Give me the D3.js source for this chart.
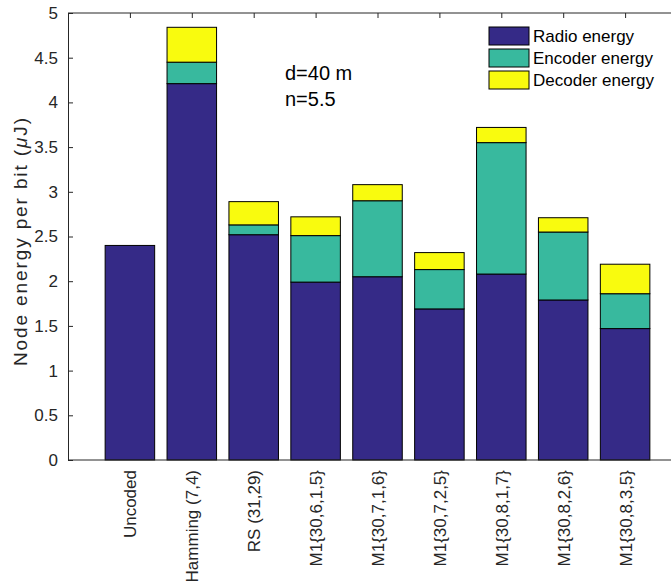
<!DOCTYPE html>
<html><head><meta charset="utf-8">
<script src="https://cdn.jsdelivr.net/npm/d3@7/dist/d3.min.js"></script>
<style>body{margin:0;background:#fff}svg{display:block;font-family:"Liberation Sans",Arial,sans-serif}</style>
</head><body><svg id="c" width="671" height="582"></svg>
<script>
const categories = ["Uncoded","Hamming (7,4)","RS (31,29)","M1{30,6,1,5}","M1{30,7,1,6}","M1{30,7,2,5}","M1{30,8,1,7}","M1{30,8,2,6}","M1{30,8,3,5}"];
const radio   = [2.40, 4.21, 2.52, 1.99, 2.05, 1.69, 2.08, 1.79, 1.47];
const encoder = [0.00, 0.24, 0.11, 0.52, 0.85, 0.44, 1.47, 0.76, 0.39];
const decoder = [0.00, 0.39, 0.26, 0.21, 0.18, 0.19, 0.17, 0.16, 0.33];
const seriesNames = ["Radio energy","Encoder energy","Decoder energy"];
const colors = ["#352a87","#38b99e","#f9fb0e"];
const yTicks = [0,0.5,1,1.5,2,2.5,3,3.5,4,4.5,5];

const svg = d3.select("#c");
const x = d3.scaleLinear().domain([0,10]).range([68,687]);
const y = d3.scaleLinear().domain([0,5]).range([460,13]);
const bw = x(0.8)-x(0);

const rows = categories.map((c,i)=>({c, i, radio:radio[i], encoder:encoder[i], decoder:decoder[i]}));
const stack = d3.stack().keys(["radio","encoder","decoder"])(rows);

stack.forEach((layer,k)=>{
  svg.append("g").selectAll("rect").data(layer.filter(d=>d[1]-d[0]>0)).join("rect")
    .attr("x", d=>x(d.data.i+1)-bw/2)
    .attr("width", bw)
    .attr("y", d=>y(d[1]))
    .attr("height", d=>y(d[0])-y(d[1]))
    .attr("fill", colors[k])
    .attr("stroke", "#000")
    .attr("stroke-width", 1);
});

// axes box lines
svg.append("line").attr("x1",68).attr("x2",671).attr("y1",y(5)).attr("y2",y(5)).attr("stroke","#262626");
svg.append("line").attr("x1",68).attr("x2",671).attr("y1",y(0)).attr("y2",y(0)).attr("stroke","#262626");

// y axis
const yAxis = d3.axisLeft(y).tickValues(yTicks).tickSize(-5).tickPadding(10).tickFormat(d3.format("~g"));
const gy = svg.append("g").attr("transform","translate(68,0)").call(yAxis);
gy.select(".domain").attr("stroke","#262626");
gy.selectAll(".tick line").attr("stroke","#262626");
gy.selectAll("text").attr("font-size",17).attr("fill","#262626").attr("font-family","Liberation Sans, Arial, sans-serif");

// top ticks
const xt = d3.axisTop(x).tickValues(d3.range(1,10)).tickSize(-5).tickFormat("");
const gt = svg.append("g").attr("transform",`translate(0,${y(5)})`).call(xt);
gt.select(".domain").remove();
gt.selectAll(".tick line").attr("stroke","#262626");

// bottom labels
const xb = d3.axisBottom(x).tickValues(d3.range(1,10)).tickSize(0).tickFormat(d=>categories[d-1]);
const gb = svg.append("g").attr("transform",`translate(0,${y(0)})`).call(xb);
gb.select(".domain").remove();
gb.selectAll("text")
  .attr("font-size",17).attr("fill","#262626").attr("font-family","Liberation Sans, Arial, sans-serif")
  .attr("transform","rotate(-90)")
  .attr("text-anchor","end")
  .attr("x",-10).attr("y",0).attr("dy","0.35em");

// y label
const yl = svg.append("text").attr("transform","translate(27,242) rotate(-90)")
  .attr("text-anchor","middle").attr("font-size",19).attr("fill","#262626")
  .attr("textLength",248).attr("lengthAdjust","spacing");
yl.append("tspan").text("Node energy per bit (");
yl.append("tspan").attr("font-style","italic").text("μ");
yl.append("tspan").text("J)");

// annotation
svg.append("text").attr("x",285).attr("y",80).attr("font-size",20).attr("fill","#000").text("d=40 m");
svg.append("text").attr("x",285).attr("y",106).attr("font-size",20).attr("fill","#000").text("n=5.5");

// legend
const lg = svg.append("g");
seriesNames.forEach((n,k)=>{
  const cy = 36 + k*22;
  lg.append("rect").attr("x",489).attr("y",cy-9).attr("width",40).attr("height",18)
    .attr("fill",colors[k]).attr("stroke","#000").attr("stroke-width",1);
  lg.append("text").attr("x",533).attr("y",cy).attr("dy","0.35em").attr("font-size",17).attr("fill","#000").text(n);
});
</script></body></html>
